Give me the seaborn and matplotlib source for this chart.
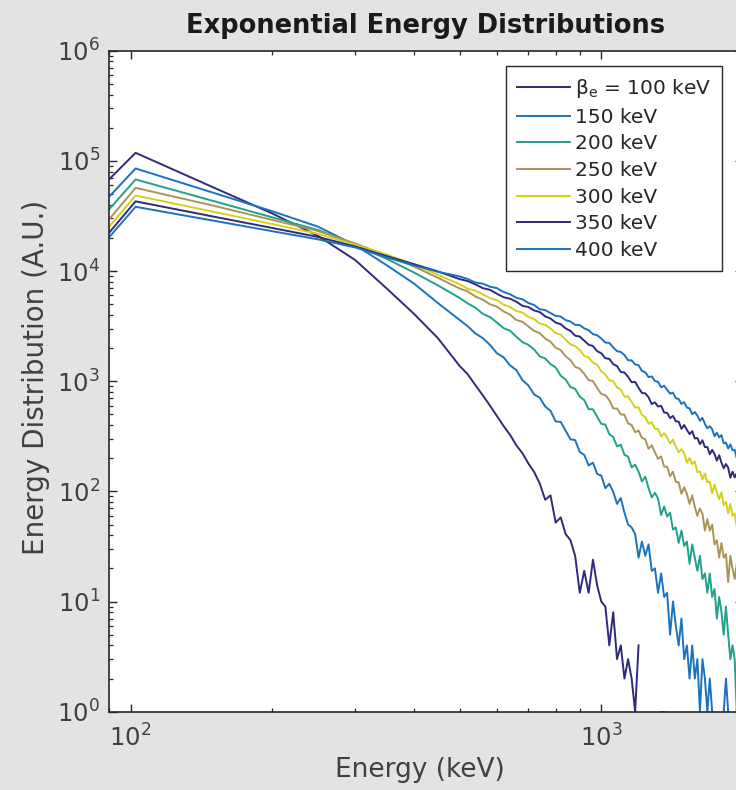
import numpy as np
import pandas as pd
import matplotlib
matplotlib.use("Agg")
import matplotlib.pyplot as plt
import seaborn as sns
from matplotlib.lines import Line2D
from matplotlib.ticker import LogLocator, NullFormatter

# ---------------- data ----------------
energy_kev = [90, 102.5, 150, 200, 250, 300, 350, 400, 450,
              500, 520, 540, 560, 580, 600, 620, 640, 660, 680,
              700, 720, 740, 760, 780, 800, 820, 840, 860, 880,
              900, 920, 940, 960, 980, 1000, 1020, 1040, 1060, 1080,
              1100, 1120, 1140, 1160, 1180, 1200, 1220, 1240, 1260, 1280,
              1300, 1320, 1340, 1360, 1380, 1400, 1420, 1440, 1460, 1480,
              1500, 1520, 1540, 1560, 1580, 1600, 1620, 1640, 1660, 1680,
              1700, 1720, 1740, 1760, 1780, 1800, 1820, 1840, 1860, 1880,
              1900, 1920, 1940, 1960, 1980, 2000]

dist_100 = [67800, 118300, 57400, 33300, 20900, 12600, 6950, 4090, 2450,
            1377, 1160, 923, 745, 601, 484, 392, 326, 262, 222,
            179, 150, 118, 84, 92, 52, 58, 41, 36, 26,
            12, 19, 12, 24, 14, 10, 9, 4, 8, 3,
            4, 2, 3, 2, 1, 4, 0, 0, 0, 0,
            0, 0, 1, 1, 0, 0, 0, 0, 0, 0,
            0, 0, 0, 0, 0, 0, 0, 0, 0, 0,
            0, 0, 0, 0, 0, 0, 0, 0, 0, 0,
            0, 0, 0, 0, 0, 0]

dist_150 = [47100, 85300, 51300, 34900, 25300, 17200, 11300, 7700, 5110,
            3600, 3162, 2718, 2464, 2138, 1797, 1648, 1393, 1261, 1024,
            915, 758, 709, 589, 539, 431, 427, 355, 297, 292,
            228, 214, 172, 182, 144, 139, 107, 117, 99, 77,
            87, 64, 50, 47, 41, 25, 35, 26, 33, 19,
            20, 12, 18, 11, 12, 5, 10, 6, 4, 7,
            3, 4, 2, 4, 2, 3, 1, 3, 2, 1,
            2, 1, 0, 0, 0, 0, 1, 2, 1, 0,
            0, 0, 0, 0, 0, 0]

dist_200 = [36200, 67800, 43200, 30700, 23600, 17400, 12900, 9700, 7400,
            5700, 5094, 4650, 4096, 3823, 3414, 3028, 2875, 2535, 2264,
            2139, 1939, 1680, 1610, 1430, 1334, 1124, 1034, 887, 852,
            726, 673, 557, 555, 475, 410, 404, 330, 312, 256,
            265, 215, 207, 165, 175, 151, 123, 136, 107, 88,
            97, 86, 61, 73, 59, 64, 45, 47, 34, 44,
            32, 35, 22, 33, 25, 19, 26, 16, 18, 12,
            18, 11, 13, 7, 11, 8, 5, 9, 5, 3,
            4, 3, 1, 3, 1, 2]

dist_250 = [29400, 56900, 39200, 29100, 23100, 17800, 13840, 11000, 8670,
            6942, 6543, 5879, 5500, 4994, 4756, 4305, 4018, 3595, 3463,
            3140, 2859, 2731, 2438, 2284, 2011, 1917, 1681, 1551, 1351,
            1300, 1163, 1022, 1003, 868, 766, 746, 673, 566, 565,
            500, 496, 414, 400, 344, 357, 305, 297, 243, 262,
            226, 197, 208, 168, 167, 137, 151, 122, 121, 95,
            109, 95, 77, 92, 72, 60, 70, 63, 44, 56,
            44, 50, 33, 36, 25, 34, 25, 27, 15, 26,
            20, 16, 22, 14, 16, 11]

dist_300 = [25200, 48500, 34500, 26700, 21800, 17300, 14130, 11480, 9240,
            7585, 6911, 6657, 6140, 5673, 5436, 4950, 4710, 4330, 4200,
            3843, 3658, 3335, 3248, 3012, 2730, 2652, 2380, 2159, 2085,
            1918, 1697, 1641, 1474, 1413, 1225, 1153, 1018, 1002, 880,
            840, 721, 730, 647, 578, 579, 493, 474, 410, 426,
            370, 367, 316, 337, 308, 272, 295, 254, 226, 241,
            222, 182, 201, 177, 187, 149, 152, 128, 145, 121,
            123, 96, 115, 98, 85, 98, 75, 80, 63, 77,
            60, 63, 48, 59, 51, 42]

dist_350 = [22200, 42900, 31200, 24600, 20400, 16700, 13650, 11550, 9910,
            8450, 8112, 7568, 6995, 6753, 6222, 5788, 5606, 5270, 4831,
            4714, 4390, 4243, 3875, 3705, 3400, 3295, 3013, 2860, 2588,
            2545, 2330, 2145, 2083, 1872, 1793, 1617, 1592, 1430, 1371,
            1213, 1199, 1097, 979, 985, 870, 782, 776, 714, 620,
            643, 589, 598, 519, 516, 462, 484, 432, 430, 370,
            400, 362, 331, 352, 302, 305, 268, 291, 252, 253,
            217, 238, 218, 190, 213, 182, 162, 177, 164, 133,
            151, 134, 146, 115, 119, 102]

dist_400 = [20200, 38300, 28650, 23000, 19400, 16370, 13280, 11250, 9840,
            8940, 8470, 7874, 7676, 7214, 6997, 6448, 6157, 5717, 5541,
            5130, 4915, 4503, 4420, 4150, 3920, 3862, 3584, 3478, 3247,
            3230, 3016, 2905, 2672, 2614, 2440, 2244, 2225, 2030, 1872,
            1843, 1727, 1549, 1546, 1419, 1397, 1240, 1203, 1090, 1104,
            1005, 987, 880, 909, 834, 772, 787, 701, 690, 622,
            645, 576, 567, 502, 525, 487, 437, 465, 410, 373,
            390, 367, 316, 341, 309, 324, 273, 277, 245, 267,
            236, 239, 200, 226, 202, 184]

series_labels = [r"β$_{\mathregular{e}}$ = 100 keV", "150 keV", "200 keV",
                 "250 keV", "300 keV", "350 keV", "400 keV"]
series_values = [dist_100, dist_150, dist_200, dist_250, dist_300, dist_350, dist_400]
series_colors = ["#2f2a7a", "#1b72bd", "#21a08a", "#a99558", "#d4d11b",
                 "#2f2a7a", "#1b72bd"]

# ---------------- long-form table; zero counts break the line ----------------
rows = []
for lab, vals in zip(series_labels, series_values):
    seg = 0
    for e, v in zip(energy_kev, vals):
        if v > 0:
            rows.append({"energy": e, "value": v, "series": lab, "seg": f"{lab}-{seg}"})
        else:
            seg += 1
df = pd.DataFrame(rows)

# ---------------- figure ----------------
plt.rcParams["font.family"] = ["DejaVu Sans"]
BG = "#e3e3e3"
fig = plt.figure(figsize=(7.36, 7.90), dpi=100, facecolor=BG)
ax = fig.add_axes([109 / 736, (790 - 711.7) / 790, (743 - 109) / 736, (711.7 - 50.7) / 790])
ax.set_facecolor("white")

palette = {lab: c for lab, c in zip(series_labels, series_colors)}
sns.lineplot(data=df, x="energy", y="value", hue="series", units="seg",
             estimator=None, palette=palette, hue_order=series_labels,
             linewidth=1.4, legend=False, ax=ax)

ax.set_xscale("log")
ax.set_yscale("log")
ax.set_xlim(90, 2000)
ax.set_ylim(1, 1e6)

for axis in (ax.xaxis, ax.yaxis):
    axis.set_major_locator(LogLocator(base=10, numticks=12))
    axis.set_minor_locator(LogLocator(base=10, subs=np.arange(2, 10), numticks=12))
    axis.set_minor_formatter(NullFormatter())

SPINE = "#262626"
for sp in ax.spines.values():
    sp.set_color(SPINE)
    sp.set_linewidth(1.2)
ax.tick_params(which="both", direction="in", top=True, right=True,
               colors=SPINE, labelcolor="#404040")
ax.tick_params(which="major", length=5.8, width=1.0, labelsize=17.5)
ax.tick_params(which="minor", length=3.2, width=0.9)
ax.tick_params(axis="x", which="major", pad=9.5)
ax.tick_params(axis="y", which="major", pad=6.5)

ax.set_xlabel("Energy (keV)", fontsize=19, color="#404040")
ax.set_ylabel("Energy Distribution (A.U.)", fontsize=20, color="#404040")
ax.xaxis.set_label_coords(0.491, -0.068)
ax.yaxis.set_label_coords(-0.093, 0.505)
ax.set_title("Exponential Energy Distributions", fontsize=18.5, fontweight="bold",
             color="#1a1a1a", pad=12.7)

handles = [Line2D([0], [0], color=c, lw=1.4) for c in series_colors]
leg = ax.legend(handles, series_labels, loc="upper right",
                bbox_to_anchor=(722 / 736, 1 - 66 / 790), bbox_transform=fig.transFigure,
                borderaxespad=0, frameon=True, fancybox=False, framealpha=1,
                edgecolor=SPINE, facecolor="white", fontsize=14.5,
                handlelength=2.6, handletextpad=0.25, labelspacing=0.38,
                borderpad=0.55)
leg.get_frame().set_linewidth(1.0)
for t in leg.get_texts():
    t.set_color("#262626")

fig.savefig("out.png", dpi=100, facecolor=BG)
